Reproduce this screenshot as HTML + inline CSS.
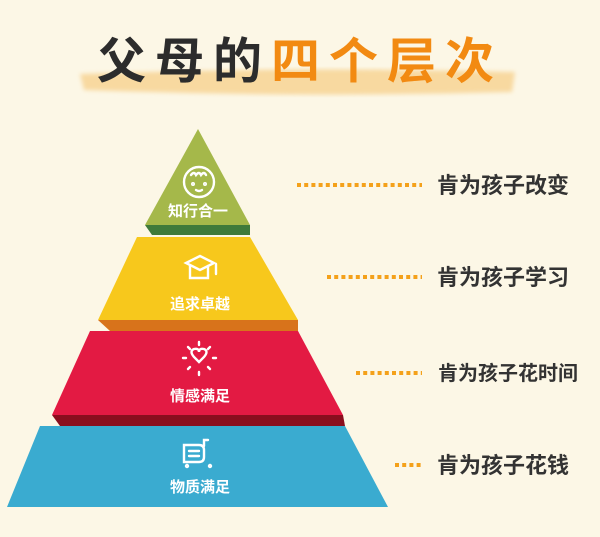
<!DOCTYPE html>
<html><head><meta charset="utf-8"><style>
body{margin:0;width:600px;height:537px;background:#fcf7e6;overflow:hidden;font-family:"Liberation Sans","Noto Sans CJK SC",sans-serif;}
</style></head><body>
<svg width="600" height="537" xmlns="http://www.w3.org/2000/svg" style="position:absolute;left:0;top:0">
<defs><filter id="b"><feGaussianBlur stdDeviation="2"/></filter></defs>
<path d="M80,74 Q300,66 515,72 L512,92 Q300,98 84,90 Z" fill="#f8d9a0" filter="url(#b)"/>
<text x="97" y="78" font-size="49" font-weight="bold" font-family="Noto Sans CJK SC,sans-serif" fill="#2c2c2c" letter-spacing="9">父母的<tspan fill="#f28a12">四个层次</tspan></text>
<!-- green -->
<polygon points="145,225 250,225 250,235 152,235" fill="#3f7a3a"/>
<polygon points="198,129 250,225 145,225" fill="#a5b84a"/>
<!-- yellow -->
<polygon points="98,320 298,320 298,331 110,331" fill="#d8731b"/>
<polygon points="137,237 250,237 298,320 98,320" fill="#f7c81c"/>
<!-- red -->
<polygon points="52,415 343,415 345,426 60,426" fill="#8a0e1e"/>
<polygon points="90,331 298,331 343,415 52,415" fill="#e31a43"/>
<!-- blue -->
<polygon points="40,426 345,426 388,507 7,507" fill="#3aabd0"/>
<g fill="none" stroke="#fff" stroke-width="2.4" stroke-linecap="round">
<circle cx="199" cy="182" r="15"/><path d="M191,175 q3,-4 5,0 q3,-4 5,0 q3,-4 5,0"/><circle cx="193" cy="184" r="0.8"/><circle cx="205" cy="184" r="0.8"/><path d="M196,190 q3,2 6,0"/>
<path d="M186,263 L200,256 L214,263 L200,270 Z"/><path d="M190,266 v12 h18 v-12"/><path d="M216,264 v10"/>
<path d="M194,357 q-5,-6 0,-8 q5,-1 5,3 q0,-4 5,-3 q5,2 0,8 l-5,5 z"/>
<path d="M199,342 v3 M199,372 v3 M183,358 h3 M213,358 h3 M188,347 l2,2 M210,347 l-2,2 M188,369 l2,-2 M210,369 l-2,-2"/>
<path d="M184,445 h15 q5,0 5,5 v7 q0,5 -5,5 h-15 z"/><path d="M189,451 h10 M189,456 h10"/><path d="M204,446 v-6 h4"/><circle cx="187" cy="466" r="1"/><circle cx="210" cy="466" r="1"/>
</g>
<g fill="#fff" font-size="15" font-weight="bold" text-anchor="middle" font-family="Noto Sans CJK SC,sans-serif">
<text x="198" y="216">知行合一</text>
<text x="200" y="309">追求卓越</text>
<text x="200" y="401">情感满足</text>
<text x="200" y="492">物质满足</text>
</g>
<g stroke="#f4a11a" stroke-width="4" stroke-dasharray="4,3.2">
<line x1="297" y1="185" x2="422" y2="185"/>
<line x1="327" y1="277" x2="422" y2="277"/>
<line x1="356" y1="373" x2="422" y2="373"/>
<line x1="395" y1="465" x2="422" y2="465"/>
</g>
<g fill="#333" font-size="22" font-weight="bold" font-family="Noto Sans CJK SC,sans-serif">
<text x="437" y="193">肯为孩子改变</text>
<text x="437" y="285">肯为孩子学习</text>
<text x="438" y="380" font-size="20">肯为孩子花时间</text>
<text x="437" y="473">肯为孩子花钱</text>
</g>
</svg>
</body></html>
